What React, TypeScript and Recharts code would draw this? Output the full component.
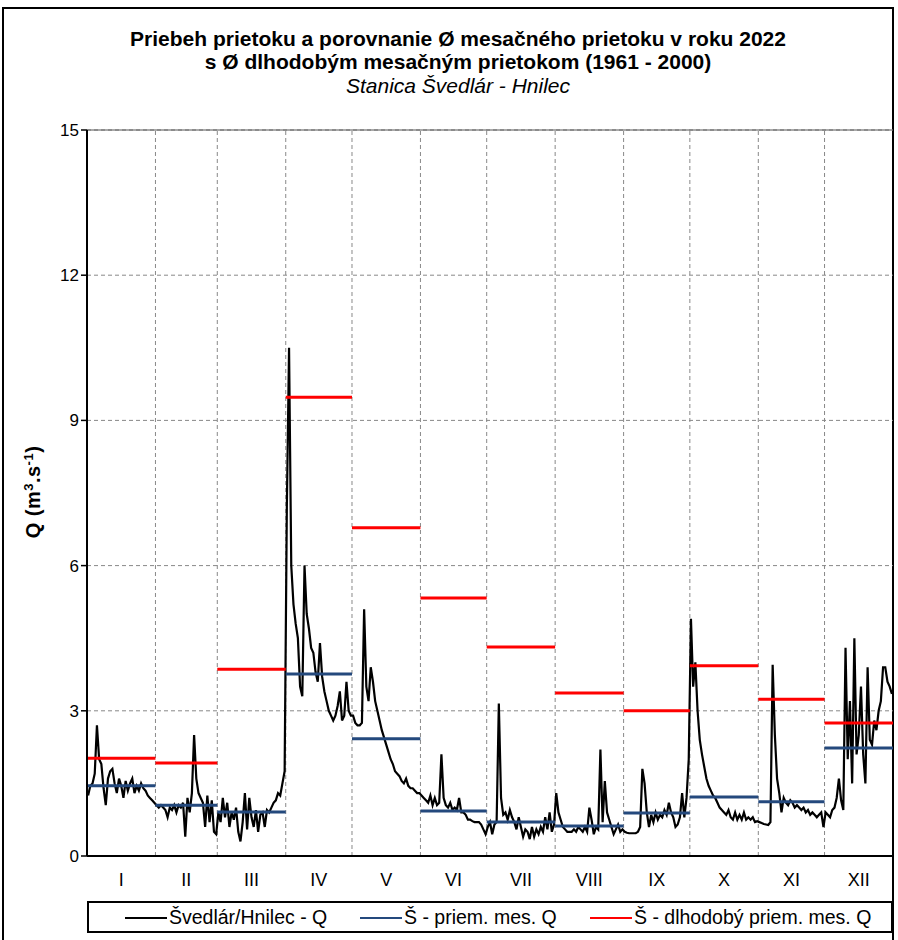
import React from 'react';
import { LineChart, Line, XAxis, YAxis, CartesianGrid, ReferenceLine } from 'recharts';

const monthLabels = ['I', 'II', 'III', 'IV', 'V', 'VI', 'VII', 'VIII', 'IX', 'X', 'XI', 'XII'];
const monthDays = [31, 28, 31, 30, 31, 30, 31, 31, 30, 31, 30, 31];
const yTicks = [0, 3, 6, 9, 12, 15];

const janQ = [1.25, 1.45, 1.5, 1.7, 2.7, 2.0, 1.9, 1.4, 1.05, 1.6, 1.75, 1.8, 1.5, 1.3, 1.6, 1.45, 1.2, 1.55, 1.35, 1.5, 1.6, 1.3, 1.45, 1.35, 1.5, 1.4, 1.35, 1.25, 1.2, 1.15, 1.1];
const febQ = [1.05, 1.0, 1.05, 1.0, 0.95, 0.8, 1.0, 0.95, 1.05, 0.9, 1.05, 1.0, 1.1, 0.4, 1.2, 0.9, 1.3, 2.5, 1.6, 1.3, 1.2, 1.1, 0.6, 1.25, 0.7, 1.15, 0.5, 0.45];
const marQ = [0.9, 0.7, 1.2, 0.8, 1.1, 0.6, 0.9, 0.75, 1.0, 0.5, 0.3, 0.7, 1.3, 0.55, 1.2, 0.8, 0.6, 0.95, 0.5, 0.85, 0.9, 0.6, 0.95, 0.9, 1.0, 1.1, 1.15, 1.3, 1.25, 1.5, 1.75];
const aprQ = [7.2, 10.5, 6.0, 5.2, 4.8, 4.5, 3.5, 3.3, 6.0, 5.0, 4.7, 4.3, 4.2, 3.8, 3.6, 4.4, 3.7, 3.4, 3.2, 3.0, 2.9, 2.8, 2.9, 3.1, 3.4, 2.8, 2.9, 3.6, 3.0, 2.9];
const mayQ = [2.9, 2.75, 2.7, 2.7, 2.75, 5.1, 3.5, 3.2, 3.9, 3.6, 3.2, 3.0, 2.8, 2.6, 2.45, 2.3, 2.15, 2.0, 1.9, 1.75, 1.7, 1.65, 1.55, 1.5, 1.6, 1.45, 1.4, 1.4, 1.35, 1.3, 1.3];
const junQ = [1.25, 1.2, 1.15, 1.1, 1.25, 1.05, 1.2, 1.05, 1.1, 2.1, 1.2, 1.05, 1.0, 1.1, 0.95, 1.0, 0.95, 1.2, 0.9, 0.9, 0.85, 0.75, 0.75, 0.72, 0.7, 0.7, 0.7, 0.65, 0.55, 0.45];
const julQ = [0.6, 0.7, 0.45, 0.65, 0.7, 3.15, 1.2, 0.85, 0.9, 0.75, 0.95, 0.8, 0.7, 0.55, 0.8, 0.6, 0.4, 0.55, 0.5, 0.35, 0.6, 0.4, 0.55, 0.45, 0.6, 0.5, 0.8, 0.55, 0.9, 0.5, 0.65];
const augQ = [1.3, 0.9, 0.75, 0.6, 0.55, 0.5, 0.5, 0.5, 0.55, 0.5, 0.6, 0.55, 0.5, 0.6, 0.5, 1.0, 0.75, 0.45, 0.6, 0.55, 2.2, 0.7, 1.55, 0.9, 0.75, 0.6, 0.45, 0.55, 0.65, 0.5, 0.55];
const sepQ = [0.5, 0.48, 0.47, 0.47, 0.47, 0.47, 0.5, 0.6, 1.8, 1.5, 0.9, 0.6, 0.85, 0.7, 0.9, 0.75, 0.85, 0.8, 0.95, 0.85, 1.1, 0.9, 0.8, 0.6, 0.65, 0.8, 1.3, 0.8, 1.2, 2.0];
const octQ = [4.9, 3.5, 4.0, 3.0, 2.4, 2.1, 1.85, 1.6, 1.45, 1.35, 1.25, 1.2, 1.1, 1.0, 0.95, 0.9, 0.85, 0.95, 0.8, 0.75, 0.9, 0.75, 0.85, 0.75, 0.9, 0.75, 0.8, 0.75, 0.8, 0.7, 0.72];
const novQ = [0.7, 0.68, 0.66, 0.65, 0.64, 0.7, 3.95, 2.5, 1.6, 1.3, 0.9, 1.2, 1.1, 1.05, 1.15, 1.1, 1.0, 1.05, 1.0, 0.95, 1.0, 0.9, 0.95, 0.85, 0.9, 0.85, 0.8, 0.85, 0.9, 0.6];
const decQ = [0.9, 0.85, 0.8, 0.95, 1.0, 1.2, 1.6, 1.15, 0.95, 4.3, 2.0, 3.2, 1.5, 4.5, 2.1, 2.5, 3.5, 2.1, 1.5, 3.9, 2.4, 2.3, 2.8, 2.6, 3.0, 3.2, 3.9, 3.9, 3.6, 3.5, 3.35];

const monthlyMean2022 = [1.45, 1.05, 0.91, 3.76, 2.42, 0.93, 0.7, 0.62, 0.89, 1.22, 1.12, 2.23];
const longTermMean = [2.02, 1.92, 3.86, 9.48, 6.78, 5.33, 4.32, 3.37, 3.0, 3.93, 3.24, 2.75];

const dailyQ = [...janQ, ...febQ, ...marQ, ...aprQ, ...mayQ, ...junQ, ...julQ, ...augQ, ...sepQ, ...octQ, ...novQ, ...decQ];
const dailyData = dailyQ.map((q, i) => ({ x: i + 0.5, y: q }));

const monthStarts: number[] = [];
monthDays.reduce((acc, d) => { monthStarts.push(acc); return acc + d; }, 0);
const monthEnds = monthStarts.map((s, i) => s + monthDays[i]);
const monthMids = monthStarts.map((s, i) => s + monthDays[i] / 2);

const stepData = (vals: number[]) =>
  vals.flatMap((v, i) => [
    { x: monthStarts[i], y: v },
    { x: monthEnds[i], y: v },
    { x: monthEnds[i], y: null as number | null },
  ]);
const blueData = stepData(monthlyMean2022);
const redData = stepData(longTermMean);

const FONT = '"Liberation Sans", Arial, sans-serif';
const BLUE = '#24497d';
const RED = '#ff0000';

const LegendItem = ({ color, label, left }: { color: string; label: string; left: number }) => (
  <div style={{ position: 'absolute', left, top: 0, height: 29, display: 'flex', alignItems: 'center' }}>
    <div style={{ width: 42, height: 0, borderTop: `2.5px solid ${color}`, marginRight: 2 }} />
    <span style={{ fontSize: 19.5, fontFamily: FONT, color: '#000' }}>{label}</span>
  </div>
);

export default function App() {
  return (
    <div style={{ position: 'absolute', left: 0, top: 0, width: 898, height: 940, background: '#fff', fontFamily: FONT }}>
      <div style={{ position: 'absolute', left: 2, top: 7, width: 892, height: 940, border: '2px solid #000', boxSizing: 'border-box' }} />
      <div style={{ position: 'absolute', left: 0, width: 916, top: 27, textAlign: 'center', fontSize: 21, fontWeight: 'bold', lineHeight: '23px', color: '#000' }}>
        <div>Priebeh prietoku a porovnanie Ø mesačného prietoku v roku 2022</div>
        <div>s Ø dlhodobým mesačným prietokom (1961 - 2000)</div>
        <div style={{ fontWeight: 'normal', fontStyle: 'italic', marginTop: 1 }}>Stanica Švedlár - Hnilec</div>
      </div>
      <div style={{ position: 'absolute', left: 33, top: 492, width: 0, height: 0 }}>
        <div style={{ position: 'absolute', transform: 'translate(-50%, -50%) rotate(-90deg)', whiteSpace: 'nowrap', fontSize: 20, fontWeight: 'bold', letterSpacing: 0.5 }}>
          Q (m<sup style={{ fontSize: 13 }}>3</sup>.s<sup style={{ fontSize: 13 }}>-1</sup>)
        </div>
      </div>
      <div style={{ position: 'absolute', left: 0, top: 0 }}>
        <LineChart width={898} height={940} margin={{ top: 130, right: 5, bottom: 54, left: 37 }}>
          <CartesianGrid vertical={false} stroke="#888" strokeDasharray="4 3" />
          <XAxis
            dataKey="x"
            type="number"
            domain={[0, 365]}
            ticks={monthMids}
            interval={0}
            tickFormatter={(v: number) => monthLabels[monthMids.indexOf(v)] ?? ''}
            tickLine={false}
            axisLine={{ stroke: '#000', strokeWidth: 2 }}
            tick={{ fill: '#000', fontSize: 18, fontFamily: FONT, dy: 9 }}
            height={30}
            allowDuplicatedCategory={false}
          />
          <YAxis
            type="number"
            domain={[0, 15]}
            ticks={yTicks}
            interval={0}
            width={50}
            tickSize={6}
            tickLine={{ stroke: '#000', strokeWidth: 1.5 }}
            axisLine={{ stroke: '#000', strokeWidth: 2 }}
            tick={{ fill: '#000', fontSize: 17, fontFamily: FONT }}
          />
          <ReferenceLine y={15} stroke="#555" strokeWidth={1} />
          {monthEnds.slice(0, 11).map((e) => (
            <ReferenceLine key={e} x={e} stroke="#888" strokeDasharray="4 3" />
          ))}
          <Line data={dailyData} dataKey="y" stroke="#000" strokeWidth={2.2} dot={false} isAnimationActive={false} type="linear" />
          <Line data={blueData} dataKey="y" stroke={BLUE} strokeWidth={3} dot={false} isAnimationActive={false} connectNulls={false} type="linear" />
          <Line data={redData} dataKey="y" stroke={RED} strokeWidth={3} dot={false} isAnimationActive={false} connectNulls={false} type="linear" />
        </LineChart>
      </div>
      <div style={{ position: 'absolute', left: 87, top: 901, width: 806, height: 32, border: '2px solid #000', boxSizing: 'border-box' }}>
        <LegendItem color="#000" label="Švedlár/Hnilec - Q" left={36} />
        <LegendItem color={BLUE} label="Š - priem. mes. Q" left={271} />
        <LegendItem color={RED} label="Š - dlhodobý priem. mes. Q" left={501} />
      </div>
    </div>
  );
}
